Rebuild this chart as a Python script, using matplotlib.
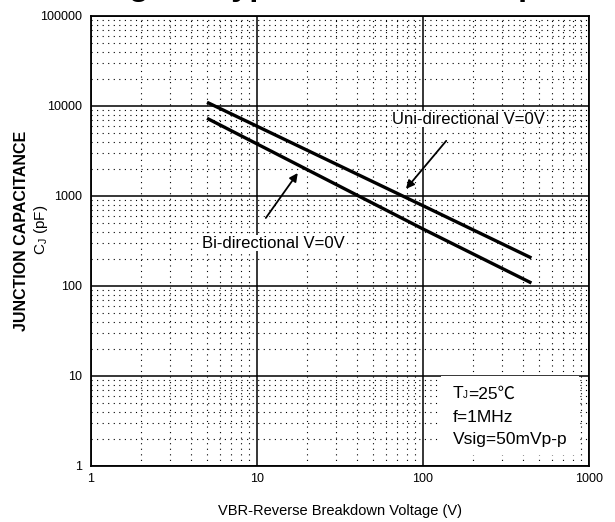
import matplotlib
matplotlib.use("Agg")
import matplotlib.pyplot as plt
from matplotlib.patches import Rectangle
from matplotlib.ticker import LogLocator, FixedLocator, NullFormatter

plt.rcParams['font.family'] = ['Liberation Sans', 'Noto Sans CJK SC', 'DejaVu Sans']
plt.rcParams['mathtext.fontset'] = 'custom'
plt.rcParams['mathtext.rm'] = 'Liberation Sans'

# data (straight lines on log-log axes)
vbr = [5, 100, 450]
cj_uni = [11000, 780, 205]
cj_bi = [7300, 430, 108]

x_ticks = [1, 10, 100, 1000]
y_ticks = [1, 10, 100, 1000, 10000, 100000]

fig = plt.figure(figsize=(6.15, 5.22), dpi=100)
ax = fig.add_axes([91/615, 56/522, 498/615, 450/522])

ax.set_xscale('log')
ax.set_yscale('log')
ax.set_xlim(1, 1000)
ax.set_ylim(1, 100000)

ax.xaxis.set_major_locator(FixedLocator(x_ticks))
ax.yaxis.set_major_locator(FixedLocator(y_ticks))
ax.set_xticklabels([str(v) for v in x_ticks])
ax.set_yticklabels([str(v) for v in y_ticks])
ax.xaxis.set_minor_locator(LogLocator(base=10, subs=range(2, 10)))
ax.yaxis.set_minor_locator(LogLocator(base=10, subs=range(2, 10)))
ax.xaxis.set_minor_formatter(NullFormatter())
ax.yaxis.set_minor_formatter(NullFormatter())
ax.tick_params(which='both', length=0, labelsize=9)
ax.tick_params(axis='x', pad=5)
ax.tick_params(axis='y', pad=6.5)

ax.grid(which='major', color='black', linewidth=1.1)
ax.grid(which='minor', color='black', linewidth=0.8, linestyle=(0, (1, 4)))
ax.set_axisbelow(True)
for s in ax.spines.values():
    s.set_linewidth(1.3)

ax.plot(vbr, cj_uni, color='black', linewidth=2.4, solid_capstyle='butt', zorder=3)
ax.plot(vbr, cj_bi, color='black', linewidth=2.4, solid_capstyle='butt', zorder=3)

arrow = dict(arrowstyle='-|>', color='black', lw=1.3, mutation_scale=12,
             shrinkA=0, shrinkB=0)
ax.annotate('', xy=(79, 1200), xytext=(138, 4100), arrowprops=arrow)
ax.annotate('', xy=(17.6, 1800), xytext=(11.3, 570), arrowprops=arrow)
ax.text(189, 7170, 'Uni-directional V=0V', fontsize=12, ha='center', va='center',
        bbox=dict(facecolor='white', edgecolor='none', pad=0.5))
ax.text(4.66, 300, 'Bi-directional V=0V', fontsize=12, ha='left', va='center',
        bbox=dict(facecolor='white', edgecolor='none', pad=0.5))

# conditions box in the lower right
ax.add_patch(Rectangle((0.703, 0.024), 0.277, 0.176, transform=ax.transAxes,
                       facecolor='white', edgecolor='none', zorder=1.5))
t_f = ax.text(0.727, 0.042, 'f=1MHz\nVsig=50mVp-p', transform=ax.transAxes,
              fontsize=12.5, linespacing=1.57, ha='left', va='bottom', zorder=4)
t_t = ax.annotate('T', xy=(0, 1), xycoords=t_f, xytext=(0, 6.4),
                  textcoords='offset points', fontsize=12.5, ha='left', va='bottom')
t_j = ax.annotate('J', xy=(1, 0), xycoords=t_t, xytext=(-0.3, 1.0),
                  textcoords='offset points', fontsize=7, ha='left', va='bottom')
ax.annotate('=25\u2103', xy=(1, 0), xycoords=(t_j, t_t), xytext=(0.3, 0),
            textcoords='offset points', fontsize=12.5, ha='left', va='bottom')

ax.set_xlabel('VBR-Reverse Breakdown Voltage (V)', fontsize=10.5, labelpad=14)
fig.text(22/615, 1 - 231/522, 'JUNCTION CAPACITANCE', rotation=90,
         fontsize=11.5, fontweight='bold', ha='center', va='center')
fig.text(41/615, 1 - 230/522, 'C$_\\mathregular{J}$ (pF)', rotation=90,
         fontsize=11, ha='center', va='center')

# title sits mostly above the top edge, only descenders show
fig.text(384.5/615, 1 + 5/522, 'Fig. 4 - Typical Junction Capacitance',
         fontsize=23.4, fontweight='bold', ha='center', va='baseline')

fig.savefig('out.png', dpi=100)
